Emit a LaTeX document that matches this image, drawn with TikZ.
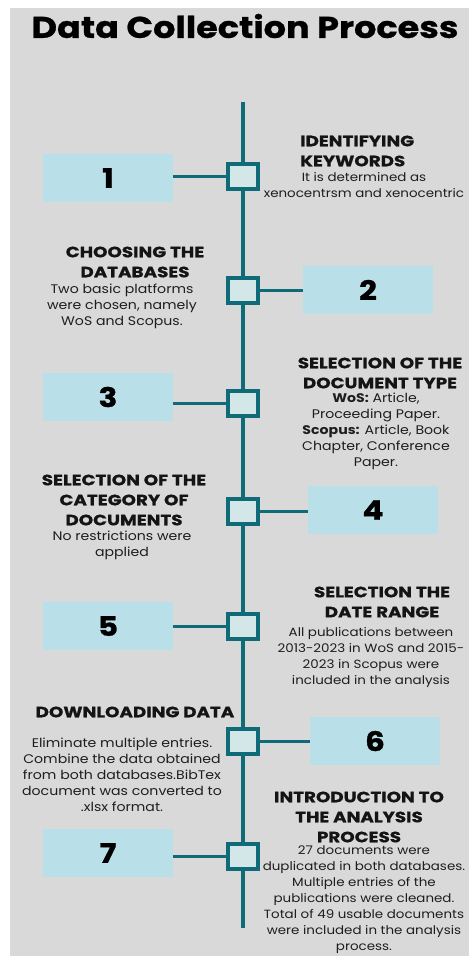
\documentclass[tikz,border=0pt]{standalone}
\usepackage{fontspec}
\setmainfont{Poppins}
\newfontfamily\titlefont{Poppins}[FakeStretch=1.17, BoldFeatures={FakeBold=0.8}]
\newfontfamily\headfont{Poppins}[FakeStretch=1.22, BoldFeatures={FakeBold=0.8}]
\newfontfamily\bodyfont{Poppins}[FakeStretch=1.13]
\newfontfamily\numfont{Poppins}[FakeStretch=1.15, BoldFeatures={FakeBold=1}]
\definecolor{bggrey}{HTML}{D9D9D9}
\definecolor{tealline}{HTML}{0F6B77}
\definecolor{sqfill}{HTML}{D4E7E8}
\definecolor{boxblue}{HTML}{B9DFE9}
\definecolor{inktext}{HTML}{141414}
\definecolor{bodyink}{HTML}{1E1E1E}
\tikzset{
  numbox/.style={fill=boxblue, minimum width=130pt, minimum height=48pt, inner sep=0pt,
    font=\numfont\fontsize{27}{27}\selectfont\bfseries, text=black},
  sqbox/.style={draw=tealline, line width=4pt, fill=sqfill, minimum width=30pt, minimum height=25pt, inner sep=0pt},
  conn/.style={draw=tealline, line width=3pt},
  spine/.style={draw=tealline, line width=4pt},
  headtext/.style={font=\headfont\fontsize{15}{20}\selectfont\bfseries, align=center, inner sep=0pt, text=inktext},
  bodytext/.style={font=\bodyfont\fontsize{12.5}{16}\selectfont, align=center, inner sep=0pt, text=bodyink},
  bodytight/.style={bodytext, font=\bodyfont\fontsize{11.9}{16}\selectfont},
}
\begin{document}
\begin{tikzpicture}[x=1pt,y=-1pt]
\useasboundingbox (0,0) rectangle (469,956);
\fill[white] (0,0) rectangle (469,956);
\fill[bggrey] (10,8) rectangle (469,956);

\node[font=\titlefont\fontsize{30}{30}\selectfont\bfseries, inner sep=0pt] (title) at (245,26) {Data Collection Process};

\coordinate (top) at (243,102);
\coordinate (bot) at (243,928);
\draw[spine] (top) -- (bot);

% boxes
\node[numbox] (b1) at (108,178) {1};
\node[numbox] (b2) at (368,290) {2};
\node[numbox] (b3) at (108,397) {3};
\node[numbox] (b4) at (373,510) {4};
\node[numbox] (b5) at (108,626) {5};
\node[numbox] (b6) at (375,741) {6};
\node[numbox] (b7) at (108,853) {7};

% squares
\node[sqbox] (s1) at (243,176) {};
\node[sqbox] (s2) at (243,290) {};
\node[sqbox] (s3) at (243,403) {};
\node[sqbox] (s4) at (243,511) {};
\node[sqbox] (s5) at (243,626) {};
\node[sqbox] (s6) at (243,741) {};
\node[sqbox] (s7) at (243,856) {};

% connectors
\draw[conn] (b1.east |- s1.west) -- (s1.west);
\draw[conn] (s2.east) -- (b2.west |- s2.east);
\draw[conn] (b3.east |- s3.west) -- (s3.west);
\draw[conn] (s4.east) -- (b4.west |- s4.east);
\draw[conn] (b5.east |- s5.west) -- (s5.west);
\draw[conn] (s6.east) -- (b6.west |- s6.east);
\draw[conn] (b7.east |- s7.west) -- (s7.west);
% redraw squares on top
\foreach \s in {s1,s2,s3,s4,s5,s6,s7}{\path (\s) node[sqbox] {};}

% texts
\node[headtext, align=left, anchor=west] (h1) at (300,151) {IDENTIFYING\\KEYWORDS};
\node[bodytight] (t1) at (364,185) {It is determined as\\xenocentrsm and xenocentric};

\node[headtext] (h2) at (135,262) {CHOOSING THE\\DATABASES};
\node[bodytext] (t2) at (122,306) {Two basic platforms\\were chosen, namely\\WoS and Scopus.};

\node[headtext] (h3) at (380,373) {SELECTION OF THE\\DOCUMENT TYPE};
\node[bodytext] (t3) at (376,431) {\textbf{WoS:} Article,\\Proceeding Paper.\\\textbf{Scopus:} Article, Book\\Chapter, Conference\\Paper.};

\node[headtext] (h4) at (124,500) {SELECTION OF THE\\CATEGORY OF\\DOCUMENTS};
\node[bodytext] (t4) at (122,545) {No restrictions were\\applied};

\node[headtext] (h5) at (382,602) {SELECTION THE\\DATE RANGE};
\node[bodytight] (t5) at (371,657) {All publications between\\2013-2023 in WoS and 2015-\\2023 in Scopus were\\included in the analysis};

\node[headtext] (h6) at (135,712) {DOWNLOADING DATA};
\node[bodytext] (t6) at (122,775) {Eliminate multiple entries.\\Combine the data obtained\\from both databases.BibTex\\document was converted to\\.xlsx format.};

\node[headtext] (h7) at (359,817) {INTRODUCTION TO\\THE ANALYSIS\\PROCESS};
\node[bodytight] (t7) at (364,900) {27 documents were\\duplicated in both databases.\\Multiple entries of the\\publications were cleaned.\\Total of 49 usable documents\\were included in the analysis\\process.};
\end{tikzpicture}
\end{document}
